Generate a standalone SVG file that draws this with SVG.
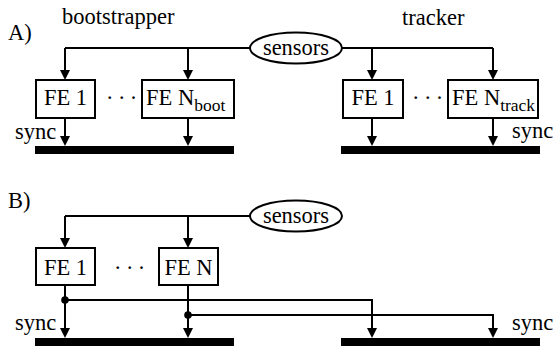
<svg xmlns="http://www.w3.org/2000/svg" width="553" height="347" viewBox="0 0 553 347">
<defs>
<marker id="ah" markerWidth="10" markerHeight="10" refX="7" refY="5" orient="auto" markerUnits="userSpaceOnUse">
<path d="M0,0 L10,5 L0,10 Z" fill="#000"/>
</marker>
<style>
text{font-family:"Liberation Serif","Times New Roman",serif;font-size:22.5px;fill:#000}
.sub{font-size:17.5px}
.dots{letter-spacing:4.4px}
.box{fill:#fff;stroke:#000;stroke-width:2}
.ell{fill:#fff;stroke:#000;stroke-width:2}
.ln{fill:none;stroke:#000;stroke-width:2}
.arr{fill:none;stroke:#000;stroke-width:2;marker-end:url(#ah)}
.bar{fill:#000}
</style>
</defs>
<rect width="553" height="347" fill="#fff"/>
<text x="8" y="40">A)</text>
<text x="62" y="24">bootstrapper</text>
<text x="402" y="25">tracker</text>
<text x="8" y="208">B)</text>
<g id="connectors">
<path class="ln" d="M65,48 H250 M342,48 H493"/>
<path class="arr" d="M65,48 V77"/>
<path class="arr" d="M188,48 V77"/>
<path class="arr" d="M372,48 V77"/>
<path class="arr" d="M493,48 V77"/>
<path class="arr" d="M65,118 V143"/>
<path class="arr" d="M188,118 V143"/>
<path class="arr" d="M372,118 V143"/>
<path class="arr" d="M493,118 V143"/>
<path class="ln" d="M65,216 H250"/>
<path class="arr" d="M65,216 V245"/>
<path class="arr" d="M188,216 V245"/>
<path class="arr" d="M65,285 V335"/>
<path class="arr" d="M188,285 V335"/>
<path class="arr" d="M65,300 H372 V335"/>
<path class="arr" d="M188,315 H493 V335"/>
<circle cx="65" cy="300" r="3.8"/>
<circle cx="188" cy="315" r="3.8"/>
</g>
<g id="sensorsA"><ellipse class="ell" cx="296" cy="48" rx="46" ry="15.5"/><text x="296" y="55" text-anchor="middle">sensors</text></g>
<g id="fe1A"><rect class="box" x="36" y="80" width="59" height="38"/><text x="65.5" y="105" text-anchor="middle">FE 1</text></g>
<g id="feNbootA"><rect class="box" x="142" y="80" width="92" height="38"/><text x="146" y="105">FE N<tspan class="sub" dy="6">boot</tspan></text></g>
<g id="fe1trackA"><rect class="box" x="343" y="80" width="60" height="38"/><text x="373" y="105" text-anchor="middle">FE 1</text></g>
<g id="feNtrackA"><rect class="box" x="448" y="80" width="90" height="38"/><text x="452" y="105">FE N<tspan class="sub" dy="6">track</tspan></text></g>
<text class="dots" x="106" y="105">···</text>
<text class="dots" x="412" y="105">···</text>
<g id="busA1"><rect class="bar" x="35" y="146" width="199" height="8"/></g>
<g id="busA2"><rect class="bar" x="341" y="146" width="199" height="8"/></g>
<text x="15" y="139">sync</text>
<text x="512" y="138">sync</text>
<g id="sensorsB"><ellipse class="ell" cx="296" cy="216" rx="46" ry="15.5"/><text x="296" y="223" text-anchor="middle">sensors</text></g>
<g id="fe1B"><rect class="box" x="36" y="248" width="59" height="37"/><text x="65.5" y="275" text-anchor="middle">FE 1</text></g>
<g id="feNB"><rect class="box" x="159" y="248" width="59" height="37"/><text x="188.5" y="275" text-anchor="middle">FE N</text></g>
<text class="dots" x="114" y="275">···</text>
<g id="busB1"><rect class="bar" x="35" y="338" width="199" height="8"/></g>
<g id="busB2"><rect class="bar" x="341" y="338" width="199" height="8"/></g>
<text x="15" y="330">sync</text>
<text x="512" y="330">sync</text>
</svg>
